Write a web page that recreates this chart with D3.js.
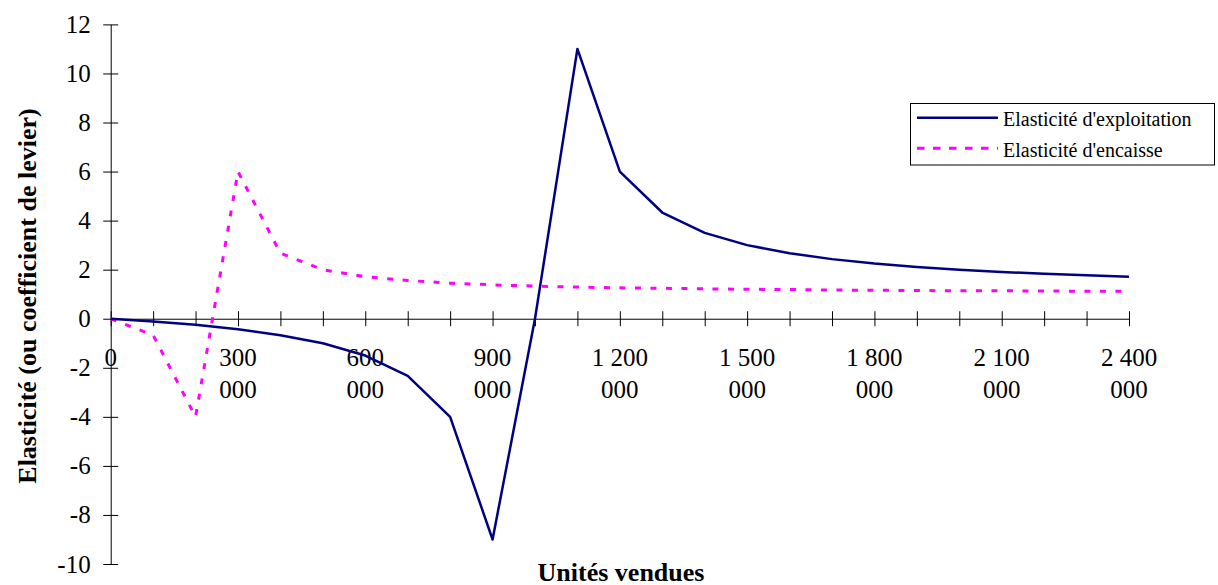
<!DOCTYPE html>
<html>
<head>
<meta charset="utf-8">
<script src="https://cdn.jsdelivr.net/npm/d3@7"></script>
<style>
  html, body { margin: 0; padding: 0; background: #fff; }
  svg { display: block; }
</style>
</head>
<body>
<svg id="chart" width="1218" height="585"></svg>
<script>
// ---- Data ----
const unites = [0, 100000, 200000, 300000, 400000, 500000, 600000, 700000, 800000, 900000,
  1000000, 1100000, 1200000, 1300000, 1400000, 1500000, 1600000, 1700000, 1800000, 1900000,
  2000000, 2100000, 2200000, 2300000, 2400000];
const elasticiteExploitation = [0, -0.11, -0.25, -0.43, -0.67, -1, -1.5, -2.33, -4, -9,
  0, 11, 6, 4.33, 3.5, 3, 2.67, 2.43, 2.25, 2.11,
  2, 1.91, 1.83, 1.77, 1.71];
const elasticiteEncaisse = [0, -0.67, -4, 6, 2.67, 2, 1.71, 1.56, 1.45, 1.38,
  1.33, 1.29, 1.26, 1.24, 1.22, 1.2, 1.19, 1.17, 1.16, 1.15,
  1.14, 1.14, 1.13, 1.12, 1.12];
const xTickValues = [0, 300000, 600000, 900000, 1200000, 1500000, 1800000, 2100000, 2400000];
const xTickLabels = [["0"], ["300", "000"], ["600", "000"], ["900", "000"], ["1 200", "000"],
  ["1 500", "000"], ["1 800", "000"], ["2 100", "000"], ["2 400", "000"]];
const yTickValues = [-10, -8, -6, -4, -2, 0, 2, 4, 6, 8, 10, 12];
const seriesNames = ["Elasticité d'exploitation", "Elasticité d'encaisse"];
const xTitle = "Unités vendues";
const yTitle = "Elasticité (ou coefficient de levier)";

const FONT = "'Liberation Serif', 'Times New Roman', Times, serif";

// ---- Layout ----
const svg = d3.select("#chart");
const x = d3.scaleLinear().domain([0, 2400000]).range([110.7, 1129]);
const y = d3.scaleLinear().domain([-10, 12]).range([564, 24.4]);

// Y axis
const yAxis = d3.axisLeft(y).tickValues(yTickValues).tickSizeInner(7.5).tickSizeOuter(0).tickFormat("");
const gy = svg.append("g").attr("transform", `translate(${x(0)},0)`).call(yAxis);
gy.select(".domain").attr("stroke", "#000").attr("stroke-width", 1);
gy.selectAll(".tick line").attr("x2", -7.5).attr("x1", 7.5).attr("stroke", "#000");
svg.append("g").selectAll("text").data(yTickValues).join("text")
  .attr("x", 90.7).attr("y", d => y(d) + 8.5)
  .attr("text-anchor", "end")
  .style("font-family", FONT).style("font-size", "25px").attr("fill", "#000")
  .text(d => d);

// X axis (crossing at y=0)
const xAxis = d3.axisBottom(x).tickValues(d3.range(0, 2400001, 100000))
  .tickSizeInner(7.5).tickSizeOuter(0).tickFormat("");
const gx = svg.append("g").attr("transform", `translate(0,${y(0)})`).call(xAxis);
gx.select(".domain").attr("stroke", "#000").attr("stroke-width", 1);
gx.selectAll(".tick line").attr("y1", -7.5).attr("y2", 7.5).attr("stroke", "#000");
const xl = svg.append("g").selectAll("text").data(xTickValues).join("text")
  .attr("x", d => x(d)).attr("y", 366)
  .attr("text-anchor", "middle")
  .style("font-family", FONT).style("font-size", "25px").attr("fill", "#000");
xl.each(function(d, i) {
  const t = d3.select(this);
  xTickLabels[i].forEach((s, j) => {
    t.append("tspan").attr("x", x(d)).attr("dy", j === 0 ? 0 : 32.3).text(s);
  });
});

// Lines
const pts1 = unites.map((u, i) => [u, elasticiteExploitation[i]]);
const pts2 = unites.map((u, i) => [u, elasticiteEncaisse[i]]);
const line = d3.line().x(d => x(d[0])).y(d => y(d[1]));
svg.append("path").datum(pts2).attr("d", line)
  .attr("fill", "none").attr("stroke", "#FF00FF").attr("stroke-width", 3)
  .attr("stroke-dasharray", "6,9.5");
svg.append("path").datum(pts1).attr("d", line)
  .attr("fill", "none").attr("stroke", "#000080").attr("stroke-width", 2.5)
  .attr("stroke-linejoin", "round");

// Titles
svg.append("text").attr("x", 621).attr("y", 580.5).attr("text-anchor", "middle")
  .style("font-family", FONT).style("font-size", "26px").style("font-weight", "bold")
  .text(xTitle);
svg.append("text").attr("transform", "translate(36,296) rotate(-90)").attr("text-anchor", "middle")
  .style("font-family", FONT).style("font-size", "26px").style("font-weight", "bold")
  .text(yTitle);

// Legend
const lg = svg.append("g");
lg.append("rect").attr("x", 910.5).attr("y", 103.5).attr("width", 304).attr("height", 61.5)
  .attr("fill", "#fff").attr("stroke", "#000").attr("stroke-width", 1);
const legendStyles = [
  { color: "#000080", width: 2.5, dash: null, ly: 117.7, ty: 125.5 },
  { color: "#FF00FF", width: 3, dash: "7.5,8.5", ly: 148.3, ty: 156.5 }
];
seriesNames.forEach((name, i) => {
  const s = legendStyles[i];
  const l = lg.append("line").attr("x1", 917).attr("x2", 998).attr("y1", s.ly).attr("y2", s.ly)
    .attr("stroke", s.color).attr("stroke-width", s.width);
  if (s.dash) l.attr("stroke-dasharray", s.dash);
  lg.append("text").attr("x", 1003).attr("y", s.ty)
    .style("font-family", FONT).style("font-size", "20px")
    .text(name);
});
</script>
</body>
</html>
